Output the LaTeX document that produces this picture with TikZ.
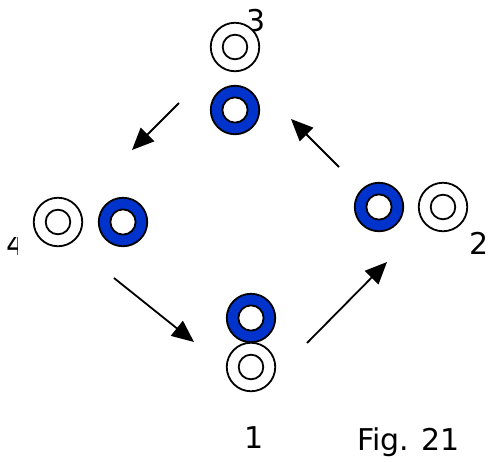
\documentclass[tikz,border=0pt]{standalone}
\usepackage{fontspec}
\setmainfont{DejaVu Sans}
\usetikzlibrary{arrows.meta}
\definecolor{ringblue}{RGB}{0,51,204}
\tikzset{
  ringline/.style={line width=1.8pt},
  whitering/.style={circle, draw, ringline, fill=white, minimum size=48.5pt, inner sep=0pt,
    path picture={\draw[ringline] (path picture bounding box.center) circle (12.3pt);}},
  bluering/.style={circle, draw, ringline, fill=ringblue, minimum size=48.5pt, inner sep=0pt,
    path picture={\draw[ringline, fill=white] (path picture bounding box.center) circle (12.6pt);}},
  lab/.style={font=\fontsize{30}{31}\selectfont, inner sep=0pt, anchor=base west},
  flow/.style={line width=1.8pt, -{Triangle[length=22pt,width=19pt]}}
}
\begin{document}
\begin{tikzpicture}[x=1pt,y=-1pt]
\useasboundingbox (0,0) rectangle (489,461);
% labels (drawn before rings)
\node[lab] (l3) at (246,31) {3};
\begin{scope}
  \clip (0,237) rectangle (17,262);
  \node[lab] (l4) at (6,255) {4};
\end{scope}
\node[lab] (l2) at (469,254) {2};
\node[lab] (l1) at (244,448) {1};
\node[lab] (fig) at (357,450) {Fig. 21};
% rings
\node[whitering] (w3) at (235,47) {};
\node[bluering]  (b3) at (235,110) {};
\node[whitering] (w4) at (58,222) {};
\node[bluering]  (b4) at (123,222) {};
\node[bluering]  (b2) at (379,207) {};
\node[whitering] (w2) at (443,207) {};
\node[bluering]  (b1) at (251,318) {};
\node[whitering] (w1) at (251,367) {};
% arrow end points
\coordinate (a1s) at (179,103);
\coordinate (a1e) at (132,150);
\coordinate (a2s) at (339,167);
\coordinate (a2e) at (291,119);
\coordinate (a3s) at (114,278);
\coordinate (a3e) at (194,342);
\coordinate (a4s) at (307,343);
\coordinate (a4e) at (387,262);
\draw[flow] (a1s) -- (a1e);
\draw[flow] (a2s) -- (a2e);
\draw[flow] (a3s) -- (a3e);
\draw[flow] (a4s) -- (a4e);
\end{tikzpicture}
\end{document}
